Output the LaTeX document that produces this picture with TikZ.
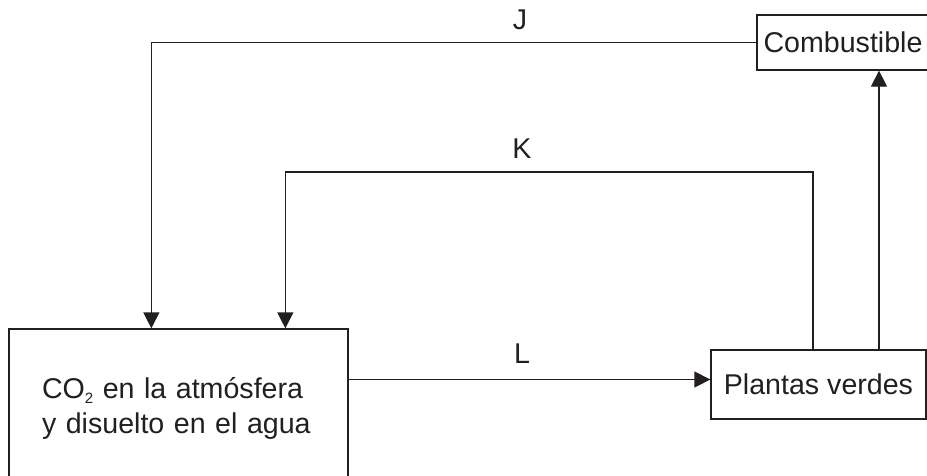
\documentclass[tikz,border=0pt]{standalone}
\usepackage{fontspec}
\setmainfont{Liberation Sans}
\usetikzlibrary{arrows.meta}
\usetikzlibrary{positioning}

\definecolor{ink}{RGB}{35,31,32}
\newcommand{\subtwo}{\raisebox{-5pt}{\fontsize{15}{15}\selectfont 2}}

\begin{document}
\begin{tikzpicture}[x=1pt,y=-1pt,
		box/.style={draw=ink, line width=1.3pt, text=ink, inner sep=0pt,
			font=\fontsize{28.6}{35}\selectfont},
		lbl/.style={text=ink, inner sep=0pt, font=\fontsize{28.6}{35}\selectfont},
		arr/.style={draw=ink, line width=1.3pt, -{Triangle[length=16pt,width=16pt]}}]
		\clip (0,0) rectangle (927,475);
		% boxes
		\node[box, minimum width=339pt, minimum height=158pt, text width=273pt, align=left] (co2) at (178.5,408) {CO\subtwo\ en la atmósfera\\y disuelto en el agua};
		\node[box, minimum width=215pt, minimum height=69pt] (plantas) at (818.5,384.5) {Plantas verdes};
		\node[box, minimum width=172pt, minimum height=55pt] (comb) at (843,42.5) {Combustible};
		\coordinate (ktop) at (550,172);
		% connectors
		\draw[arr] (comb.west) -| ([xshift=143pt]co2.north west);
		\draw[arr] ([xshift=-5.5pt]plantas.north) |- (ktop) -| ([xshift=277pt]co2.north west);
		\draw[arr] ([yshift=5pt]plantas.west -| co2.east) -- ([yshift=5pt]plantas.west);
		\draw[arr] ([xshift=60.5pt]plantas.north) -- ([xshift=60.5pt]plantas.north |- comb.south);
		% labels
		\node[lbl] (labJ) at (520,20) {J};
		\node[lbl] (labK) at (522,149) {K};
		\node[lbl] (labL) at (522,354) {L};
\end{tikzpicture}
\end{document}
